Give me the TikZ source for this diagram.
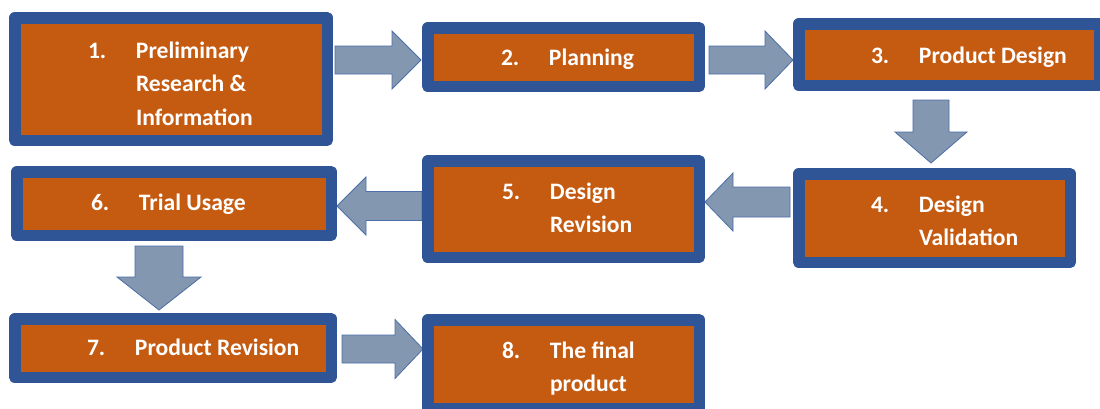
\documentclass[tikz,border=0pt]{standalone}
\usepackage{fontspec}
\setmainfont{Carlito}
\usetikzlibrary{calc}
\definecolor{boxorange}{HTML}{C55A11}
\definecolor{boxblue}{HTML}{2F5597}
\definecolor{arrowfill}{HTML}{8497B0}
\definecolor{arrowline}{HTML}{4C6EA8}
\tikzset{
  stepbox/.style={draw=boxblue, line width=11.5pt, fill=boxorange, line join=round,
    inner sep=0pt, outer sep=0pt, rectangle},
  steplabel/.style={text=white, inner sep=0pt, outer sep=0pt, anchor=base west,
    font=\fontsize{23.6}{33.5}\selectfont\bfseries},
  barrow/.style={fill=arrowfill, draw=arrowline, line width=0.8pt, line join=miter},
}
% #1 start, #2 tip, #3 shaft half width, #4 head half width, #5 head length
\newcommand\blockarrow[5]{%
  \path ($(#2)!#5!(#1)$) coordinate (tmpH);
  \draw[barrow] ($(#1)!#3!90:(#2)$) -- ($(tmpH)!#3!-90:(#1)$) -- ($(tmpH)!#4!-90:(#1)$)
    -- (#2) -- ($(tmpH)!#4!90:(#1)$) -- ($(tmpH)!#3!90:(#1)$) -- ($(#1)!#3!-90:(#2)$) -- cycle;
}
\newcommand\steptext[2]{\renewcommand\arraystretch{1}\begin{tabular}[t]{@{}p{48pt}@{}l@{}}#1 & #2\end{tabular}}
\begin{document}
\begin{tikzpicture}[x=1pt,y=-1pt]
\clip (0,0) rectangle (1100,408);
\fill[white] (0,0) rectangle (1100,408);
% connector end points
\coordinate (a1s) at (335,60);  \coordinate (a1e) at (421,60);
\coordinate (a2s) at (709,60);  \coordinate (a2e) at (793,60);
\coordinate (a3s) at (931,100); \coordinate (a3e) at (931,163);
\coordinate (a4s) at (790,202); \coordinate (a4e) at (705,202);
\coordinate (a5s) at (422,206); \coordinate (a5e) at (337,206);
\coordinate (a6s) at (159,246); \coordinate (a6e) at (159,310);
\coordinate (a7s) at (342,349); \coordinate (a7e) at (423,349);
% block arrows
\blockarrow{a1s}{a1e}{14pt}{29pt}{29pt}
\blockarrow{a2s}{a2e}{14pt}{29pt}{28pt}
\blockarrow{a3s}{a3e}{18pt}{36pt}{31pt}
\blockarrow{a4s}{a4e}{15pt}{29pt}{28pt}
\blockarrow{a5s}{a5e}{14.5pt}{29pt}{29pt}
\blockarrow{a6s}{a6e}{24pt}{42pt}{33pt}
\blockarrow{a7s}{a7e}{14pt}{29.5pt}{28pt}
% boxes
\node[stepbox, minimum width=312.5pt, minimum height=122.5pt] (b1) at (171,79) {};
\node[stepbox, minimum width=271.5pt, minimum height=58.5pt] (b2) at (563.5,57) {};
\node[stepbox, minimum width=300.5pt, minimum height=61.5pt] (b3) at (949,54.5) {};
\node[stepbox, minimum width=271.5pt, minimum height=88.5pt] (b4) at (934.5,218) {};
\node[stepbox, minimum width=271.5pt, minimum height=96.5pt] (b5) at (563.5,209) {};
\node[stepbox, minimum width=314.5pt, minimum height=63.5pt] (b6) at (174,203.5) {};
\node[stepbox, minimum width=316.5pt, minimum height=58.5pt] (b7) at (173,348) {};
\node[stepbox, minimum width=271.5pt, minimum height=88.5pt] (b8) at (563.5,364) {};
% labels
\node[steplabel] (t1) at (88,58) {\steptext{1.}{Preliminary\\ & Research \&\\ & Information}};
\node[steplabel] (t2) at (501,65) {\steptext{2.}{Planning}};
\node[steplabel] (t3) at (871,63) {\steptext{3.}{Product Design}};
\node[steplabel] (t4) at (871,212) {\steptext{4.}{Design\\ & Validation}};
\node[steplabel] (t5) at (502,199) {\steptext{5.}{Design\\ & Revision}};
\node[steplabel] (t6) at (91,210) {\steptext{6.}{Trial Usage}};
\node[steplabel] (t7) at (87,355) {\steptext{7.}{Product Revision}};
\node[steplabel] (t8) at (502,358) {\steptext{8.}{The final\\ & product}};
\end{tikzpicture}
\end{document}
